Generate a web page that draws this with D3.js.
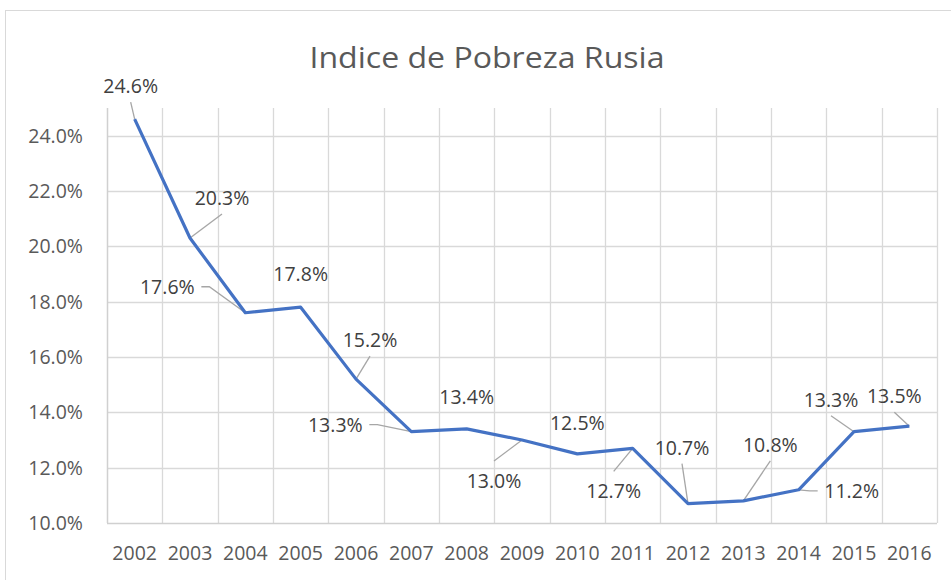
<!DOCTYPE html>
<html>
<head>
<meta charset="utf-8">
<script src="https://cdn.jsdelivr.net/npm/d3@7"></script>
<style>
 body { margin: 0; background: #fff; }
 svg { display: block; font-family: "Open Sans", "Liberation Sans", sans-serif; }
</style>
</head>
<body>
<div id="chart"></div>
<script>
// Indice de Pobreza Rusia - line chart with data labels

var years = ["2002","2003","2004","2005","2006","2007","2008","2009","2010","2011","2012","2013","2014","2015","2016"];
var values = [0.246, 0.203, 0.176, 0.178, 0.152, 0.133, 0.134, 0.130, 0.125, 0.127, 0.107, 0.108, 0.112, 0.133, 0.135];
var yTicks = [0.10, 0.12, 0.14, 0.16, 0.18, 0.20, 0.22, 0.24];

// label placement relative to the point (dx, dy) and whether a leader line is drawn
var labelOffsets = [[-4,-33],[32,-40],[-78,-26],[0,-33],[14,-39],[-76,-7],[0,-32],[-28,41],[0,-31],[-19,43],[-6,-56],[27,-56],[53,1],[-23,-32],[-15,-30]];
var leaders = [1,1,1,0,1,1,0,1,0,1,1,1,1,1,1];

var W = 951, H = 580;
var plotLeft = 107, plotRight = 937, plotTop = 108, plotBottom = 523;

var svg = d3.select("#chart").append("svg")
    .attr("width", W)
    .attr("height", H);

svg.append("rect")
    .attr("x", 5.5).attr("y", 10.5)
    .attr("width", 960).attr("height", 600)
    .attr("fill", "#fff")
    .attr("stroke", "#d9d9d9");

svg.append("text")
    .attr("x", 487).attr("y", 68)
    .attr("text-anchor", "middle")
    .attr("font-size", 29)
    .attr("textLength", 355)
    .attr("lengthAdjust", "spacingAndGlyphs")
    .attr("fill", "#595959")
    .text("Indice de Pobreza Rusia");

var x = d3.scaleBand().domain(years).range([plotLeft, plotRight]).paddingInner(0).paddingOuter(0);
var y = d3.scaleLinear().domain([0.10, 0.25]).range([plotBottom, plotTop]);

// horizontal gridlines
svg.append("g").selectAll("line")
    .data(yTicks.slice(1))
    .enter().append("line")
    .attr("x1", plotLeft).attr("x2", plotRight)
    .attr("y1", function(d) { return Math.round(y(d)) + 0.5; })
    .attr("y2", function(d) { return Math.round(y(d)) + 0.5; })
    .attr("stroke", "#d9d9d9").attr("stroke-width", 1.3);

// vertical gridlines at category boundaries
var bounds = years.map(function(d) { return x(d); }).concat([plotRight]);
svg.append("g").selectAll("line")
    .data(bounds.slice(1))
    .enter().append("line")
    .attr("x1", function(d) { return Math.round(d) + 0.5; })
    .attr("x2", function(d) { return Math.round(d) + 0.5; })
    .attr("y1", plotTop).attr("y2", plotBottom)
    .attr("stroke", "#d9d9d9").attr("stroke-width", 1.3);

// axis lines
svg.append("line")
    .attr("x1", plotLeft + 0.5).attr("x2", plotLeft + 0.5)
    .attr("y1", plotTop).attr("y2", plotBottom)
    .attr("stroke", "#d0d0d0").attr("stroke-width", 1.5);
svg.append("line")
    .attr("x1", plotLeft).attr("x2", plotRight)
    .attr("y1", plotBottom + 0.5).attr("y2", plotBottom + 0.5)
    .attr("stroke", "#d0d0d0").attr("stroke-width", 1.5);

// y tick labels
svg.append("g").selectAll("text")
    .data(yTicks)
    .enter().append("text")
    .attr("x", 83)
    .attr("y", function(d) { return y(d) + 7; })
    .attr("text-anchor", "end")
    .attr("font-size", 19.5)
    .attr("fill", "#595959")
    .text(function(d) { return d3.format(".1%")(d); });

// x tick labels
svg.append("g").selectAll("text")
    .data(years)
    .enter().append("text")
    .attr("x", function(d) { return x(d) + x.bandwidth() / 2; })
    .attr("y", 560)
    .attr("text-anchor", "middle")
    .attr("font-size", 19.5)
    .attr("fill", "#595959")
    .text(function(d) { return d; });

var pts = values.map(function(v, i) {
    return { x: x(years[i]) + x.bandwidth() / 2, y: y(v), v: v, i: i };
});

// leader lines
pts.forEach(function(p) {
    if (!leaders[p.i]) return;
    var off = labelOffsets[p.i];
    var cx = p.x + off[0], cy = p.y + off[1];
    var hw = 30, hh = 12;
    var path;
    if (Math.abs(off[0]) > Math.abs(off[1]) * 1.5) {
        var sx = off[0] < 0 ? cx + hw + 4 : cx - hw - 4;
        var ex = off[0] < 0 ? sx + 8 : sx - 8;
        path = [[sx, cy], [ex, cy], [p.x, p.y]];
    } else {
        var sy = off[1] < 0 ? cy + hh + 4 : cy - hh - 8;
        path = [[cx, sy], [p.x, p.y]];
    }
    svg.append("path")
        .attr("d", d3.line()(path))
        .attr("fill", "none")
        .attr("stroke", "#a6a6a6")
        .attr("stroke-width", 1.3);
});

// the line
svg.append("path")
    .datum(pts)
    .attr("d", d3.line().x(function(d) { return d.x; }).y(function(d) { return d.y; }))
    .attr("fill", "none")
    .attr("stroke", "#4472C4")
    .attr("stroke-width", 3.2)
    .attr("stroke-linejoin", "round");

// data labels
svg.append("g").selectAll("text")
    .data(pts)
    .enter().append("text")
    .attr("x", function(d) { return d.x + labelOffsets[d.i][0]; })
    .attr("y", function(d) { return d.y + labelOffsets[d.i][1] + 7; })
    .attr("text-anchor", "middle")
    .attr("font-size", 19.5)
    .attr("fill", "#404040")
    .text(function(d) { return d3.format(".1%")(d.v); });
</script>
</body>
</html>
